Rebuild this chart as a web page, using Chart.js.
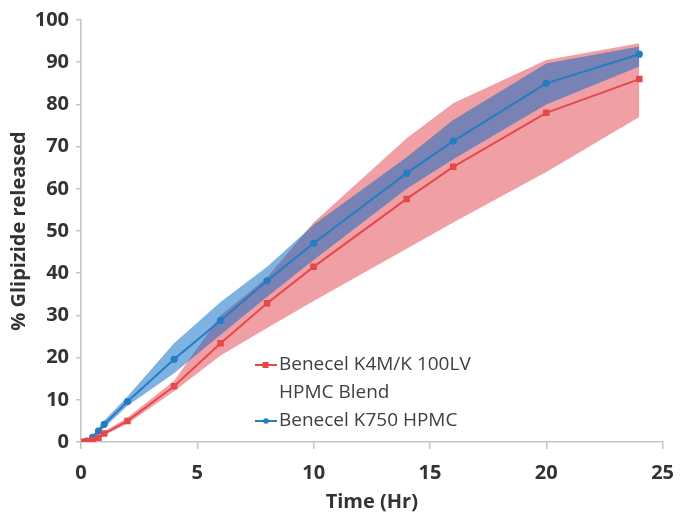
<!DOCTYPE html>
<html><head><meta charset="utf-8">
<script src="https://cdn.jsdelivr.net/npm/chart.js@4.4.1/dist/chart.umd.min.js"></script>
<style>html,body{margin:0;padding:0;background:#fff;overflow:hidden}#wrap{width:686px;height:514px}</style>
</head><body><div id="wrap"><canvas id="c" width="686" height="514"></canvas></div>
<script>
// ---- data ----
const times     = [0, 0.25, 0.5, 0.75, 1, 2, 4, 6, 8, 10, 14, 16, 20, 24];
const redMean   = [0, 0.2, 0.5, 1.0, 2.0, 5.0, 13.2, 23.4, 32.9, 41.5, 57.6, 65.2, 78.0, 86.0];
const redUpper  = [0, 0.3, 0.8, 1.4, 2.5, 5.8, 14.5, 30.0, 39.0, 52.0, 72.0, 80.3, 90.5, 94.5];
const redLower  = [0, 0.1, 0.3, 0.7, 1.6, 4.3, 12.0, 20.5, 27.0, 33.4, 45.8, 52.0, 64.0, 77.0];
const blueMean  = [0, 0.2, 1.1, 2.6, 4.2, 9.6, 19.6, 28.8, 38.2, 47.1, 63.7, 71.3, 85.0, 91.9];
const blueUpper = [0, 0.5, 1.6, 3.3, 5.1, 10.8, 23.4, 33.2, 41.5, 51.5, 67.5, 76.3, 89.7, 93.7];
const blueLower = [0, 0.1, 0.7, 2.0, 3.4, 8.6, 16.3, 25.4, 34.4, 43.1, 60.0, 67.0, 80.0, 89.0];
const seriesLabels = [['Benecel K4M/K 100LV', 'HPMC Blend'], ['Benecel K750 HPMC']];
const xTitle = 'Time (Hr)';
const yTitle = '% Glipizide released';

const pts = arr => times.map((t, i) => ({x: t, y: arr[i]}));
const RED = 'rgb(228,72,74)';
const BLUE = 'rgb(35,125,195)';
const font = (size, weight) => ({family: "'Open Sans', sans-serif", size: size, weight: weight});

const legendPlugin = {
  id: 'innerLegend',
  afterDraw(chart) {
    const ctx = chart.ctx;
    ctx.save();
    ctx.font = "19px 'Open Sans', sans-serif";
    ctx.textBaseline = 'middle';
    ctx.textAlign = 'left';
    const entries = [
      {label: seriesLabels[0], color: RED, style: 'rect', y: 365},
      {label: seriesLabels[1], color: BLUE, style: 'circle', y: 421}
    ];
    entries.forEach(e => {
      ctx.strokeStyle = e.color; ctx.fillStyle = e.color; ctx.lineWidth = 2;
      ctx.beginPath(); ctx.moveTo(255, e.y); ctx.lineTo(277, e.y); ctx.stroke();
      if (e.style === 'rect') { ctx.fillRect(262.5, e.y - 3, 6, 6); }
      else { ctx.beginPath(); ctx.arc(266, e.y, 2.8, 0, Math.PI * 2); ctx.fill(); }
      ctx.fillStyle = '#404040';
      e.label.forEach((line, k) => ctx.fillText(line, 279, e.y + k * 28));
    });
    ctx.restore();
  }
};

new Chart(document.getElementById('c'), {
  type: 'line',
  data: {
    datasets: [
      {label: seriesLabels[0].join(' '), data: pts(redMean), borderColor: RED, backgroundColor: RED,
       borderWidth: 2, pointStyle: 'rect', pointRadius: 4.6, pointBorderWidth: 0, fill: false, tension: 0},
      {label: seriesLabels[1][0], data: pts(blueMean), borderColor: BLUE, backgroundColor: BLUE,
       borderWidth: 2, pointStyle: 'circle', pointRadius: 3.6, pointBorderWidth: 0, fill: false, tension: 0},
      {label: 'blue upper', data: pts(blueUpper), borderWidth: 0, pointRadius: 0, fill: '+1',
       backgroundColor: 'rgba(0,100,195,0.5)', borderColor: 'rgba(0,0,0,0)', tension: 0},
      {label: 'blue lower', data: pts(blueLower), borderWidth: 0, pointRadius: 0, fill: false,
       borderColor: 'rgba(0,0,0,0)', tension: 0},
      {label: 'red upper', data: pts(redUpper), borderWidth: 0, pointRadius: 0, fill: '+1',
       backgroundColor: 'rgb(240,160,165)', borderColor: 'rgba(0,0,0,0)', tension: 0},
      {label: 'red lower', data: pts(redLower), borderWidth: 0, pointRadius: 0, fill: false,
       borderColor: 'rgba(0,0,0,0)', tension: 0}
    ]
  },
  options: {
    responsive: false, animation: false, devicePixelRatio: 1,
    layout: {padding: {top: 20, right: 15, left: 0, bottom: 0}},
    plugins: {legend: {display: false}, tooltip: {enabled: false}},
    scales: {
      x: {
        type: 'linear', min: 0, max: 25,
        ticks: {stepSize: 5, font: font(20, 'bold'), color: '#333', padding: 12, maxRotation: 0},
        grid: {drawOnChartArea: false, drawTicks: true, tickLength: 7, color: '#c4c4c4', lineWidth: 1.5},
        border: {display: true, color: '#c4c4c4', width: 1.5},
        title: {display: true, text: xTitle, font: font(20, 'bold'), color: '#333', padding: {top: 0, bottom: 0}},
        afterFit(s) { s.height = 72; }
      },
      y: {
        min: 0, max: 100,
        ticks: {stepSize: 10, font: font(20, 'bold'), color: '#333', padding: 7},
        grid: {drawOnChartArea: false, drawTicks: true, tickLength: 5, color: '#c4c4c4', lineWidth: 1.5},
        border: {display: true, color: '#c4c4c4', width: 1.5},
        title: {display: true, text: yTitle, font: font(20, 'bold'), color: '#333', padding: {top: 7, bottom: 0}},
        afterFit(s) { s.width = 81; }
      }
    }
  },
  plugins: [legendPlugin]
});
</script></body></html>
